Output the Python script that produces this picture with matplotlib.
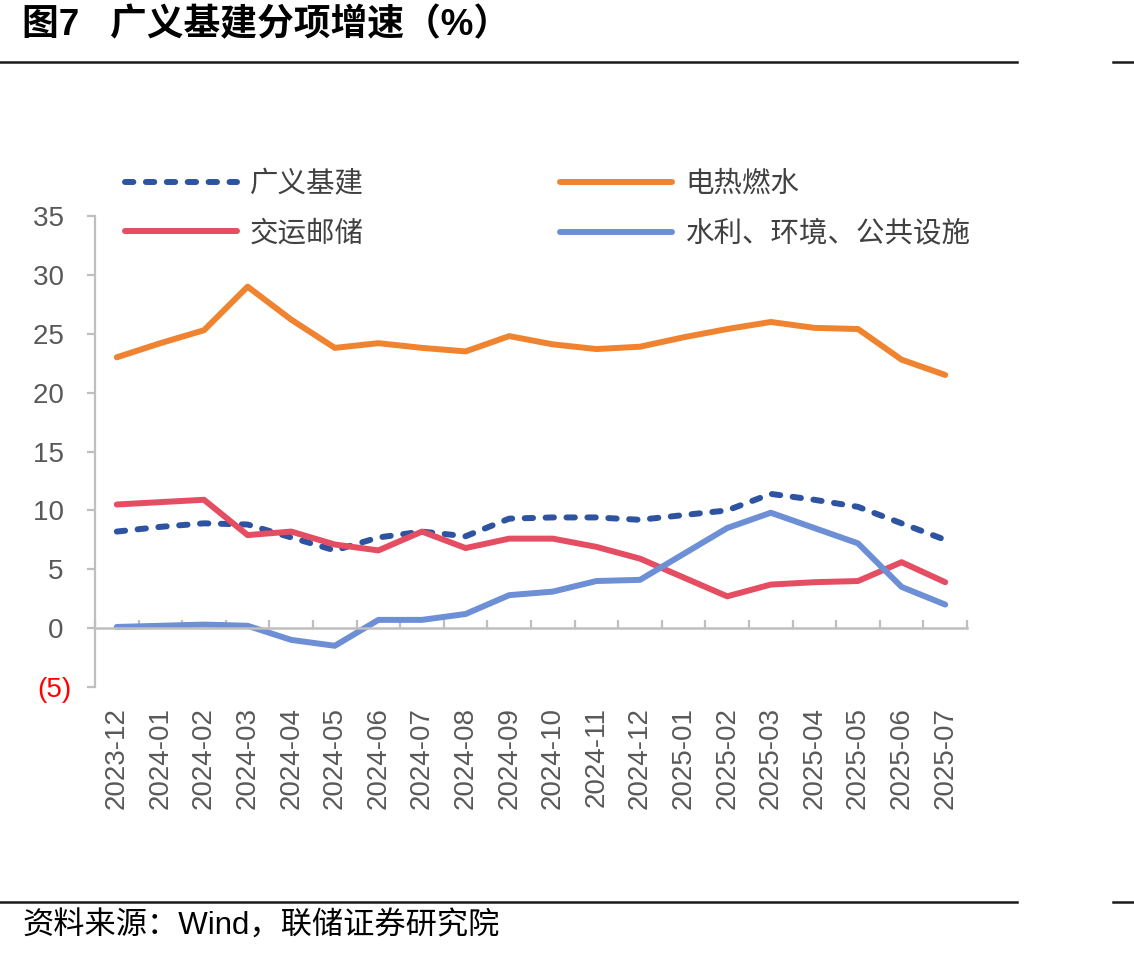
import matplotlib
matplotlib.use("Agg")
import matplotlib.pyplot as plt
from matplotlib.lines import Line2D

plt.rcParams['font.family'] = ['Liberation Sans', 'Noto Sans CJK SC']

# --- datos (%) ---
MESES = ["2023-12", "2024-01", "2024-02", "2024-03", "2024-04", "2024-05",
         "2024-06", "2024-07", "2024-08", "2024-09", "2024-10", "2024-11",
         "2024-12", "2025-01", "2025-02", "2025-03", "2025-04", "2025-05",
         "2025-06", "2025-07"]
guangyi = [8.2, 8.6, 8.9, 8.8, 7.7, 6.6, 7.7, 8.2, 7.8, 9.3,
           9.4, 9.4, 9.2, 9.6, 10.0, 11.4, 10.9, 10.3, 8.9, 7.5]
dianre = [23.0, 24.2, 25.3, 29.0, 26.2, 23.8, 24.2, 23.8, 23.5, 24.8,
          24.1, 23.7, 23.9, 24.7, 25.4, 26.0, 25.5, 25.4, 22.8, 21.5]
jiaoyun = [10.5, 10.7, 10.9, 7.9, 8.2, 7.1, 6.6, 8.2, 6.8, 7.6,
           7.6, 6.9, 5.9, 4.3, 2.7, 3.7, 3.9, 4.0, 5.6, 3.9]
shuili = [0.1, 0.2, 0.3, 0.2, -1.0, -1.5, 0.7, 0.7, 1.2, 2.8,
          3.1, 4.0, 4.1, 6.3, 8.5, 9.8, 8.5, 7.2, 3.5, 2.0]

COL_GY = "#2E54A1"
COL_DR = "#F0832F"
COL_JY = "#E54D63"
COL_SL = "#6C8FD5"
GRIS = "#BFBFBF"

W, H = 1134, 957
fig = plt.figure(figsize=(W / 100, H / 100), dpi=100)
ax = fig.add_axes([95 / W, (H - 687) / H, (967 - 95) / W, (687 - 216) / H])

x = list(range(len(MESES)))
lw = 4.3
l1, = ax.plot(x, guangyi, color=COL_GY, lw=lw, ls=(0, (1.4, 2.1)),
              dash_capstyle='round', dash_joinstyle='round', label="广义基建")
l2, = ax.plot(x, dianre, color=COL_DR, lw=lw, solid_capstyle='round',
              solid_joinstyle='round', label="电热燃水")
l3, = ax.plot(x, jiaoyun, color=COL_JY, lw=lw, solid_capstyle='round',
              solid_joinstyle='round', label="交运邮储")
l4, = ax.plot(x, shuili, color=COL_SL, lw=lw, solid_capstyle='round',
              solid_joinstyle='round', label="水利、环境、公共设施")

ax.set_xlim(-0.5, len(MESES) - 0.5)
ax.set_ylim(-5, 35)

for s in ["top", "right"]:
    ax.spines[s].set_visible(False)
ax.spines["left"].set_color(GRIS)
ax.spines["left"].set_linewidth(1.6)
ax.spines["bottom"].set_position(("data", 0))
ax.spines["bottom"].set_color(GRIS)
ax.spines["bottom"].set_linewidth(1.8)

# eje y
yvals = list(range(-5, 36, 5))
ylabs = [f"({-v})" if v < 0 else f"{v} " for v in yvals]
ax.set_yticks(yvals, labels=ylabs)
ax.tick_params(axis="y", direction="out", length=6, width=1.6, color=GRIS,
               labelsize=20, labelcolor="#595959", pad=11)
ax.yaxis.get_major_ticks()[0].label1.set_color("red")

# eje x: etiquetas en las categorías, marcas entre categorías
ax.set_xticks(x, labels=MESES, rotation=90)
ax.set_xticks([i - 0.5 for i in range(len(MESES) + 1)], minor=True)
ax.tick_params(axis="x", which="major", length=0, labelsize=20,
               labelcolor="#595959", pad=57)
ax.tick_params(axis="x", which="minor", direction="in", length=6,
               width=1.6, color=GRIS)

# leyenda
fig.legend(handles=[l1, l3, l2, l4], ncol=2, loc="upper left",
           bbox_to_anchor=(125 / W, 1 - 171 / H), frameon=False,
           borderaxespad=0, fontsize=20.5, handlelength=3.93,
           handletextpad=0.46, columnspacing=6.9, labelspacing=0.8,
           borderpad=0, labelcolor="#404040")

# título, líneas y fuente
fig.text(22 / W, 1 - 26 / H, "图7   广义基建分项增速（%）", fontsize=26.5,
         fontweight="bold", va="center", ha="left", color="black")
for yy in (62, 902):
    fig.add_artist(Line2D([0, 1017 / W], [1 - yy / H] * 2, color="#1a1a1a",
                          lw=1.8, transform=fig.transFigure))
    fig.add_artist(Line2D([1113 / W, 1], [1 - yy / H] * 2, color="#1a1a1a",
                          lw=1.8, transform=fig.transFigure))
fig.text(22 / W, 1 - 927 / H, "资料来源：Wind，联储证券研究院", fontsize=22.5,
         va="center", ha="left", color="black")

fig.savefig("out.png", dpi=100)
